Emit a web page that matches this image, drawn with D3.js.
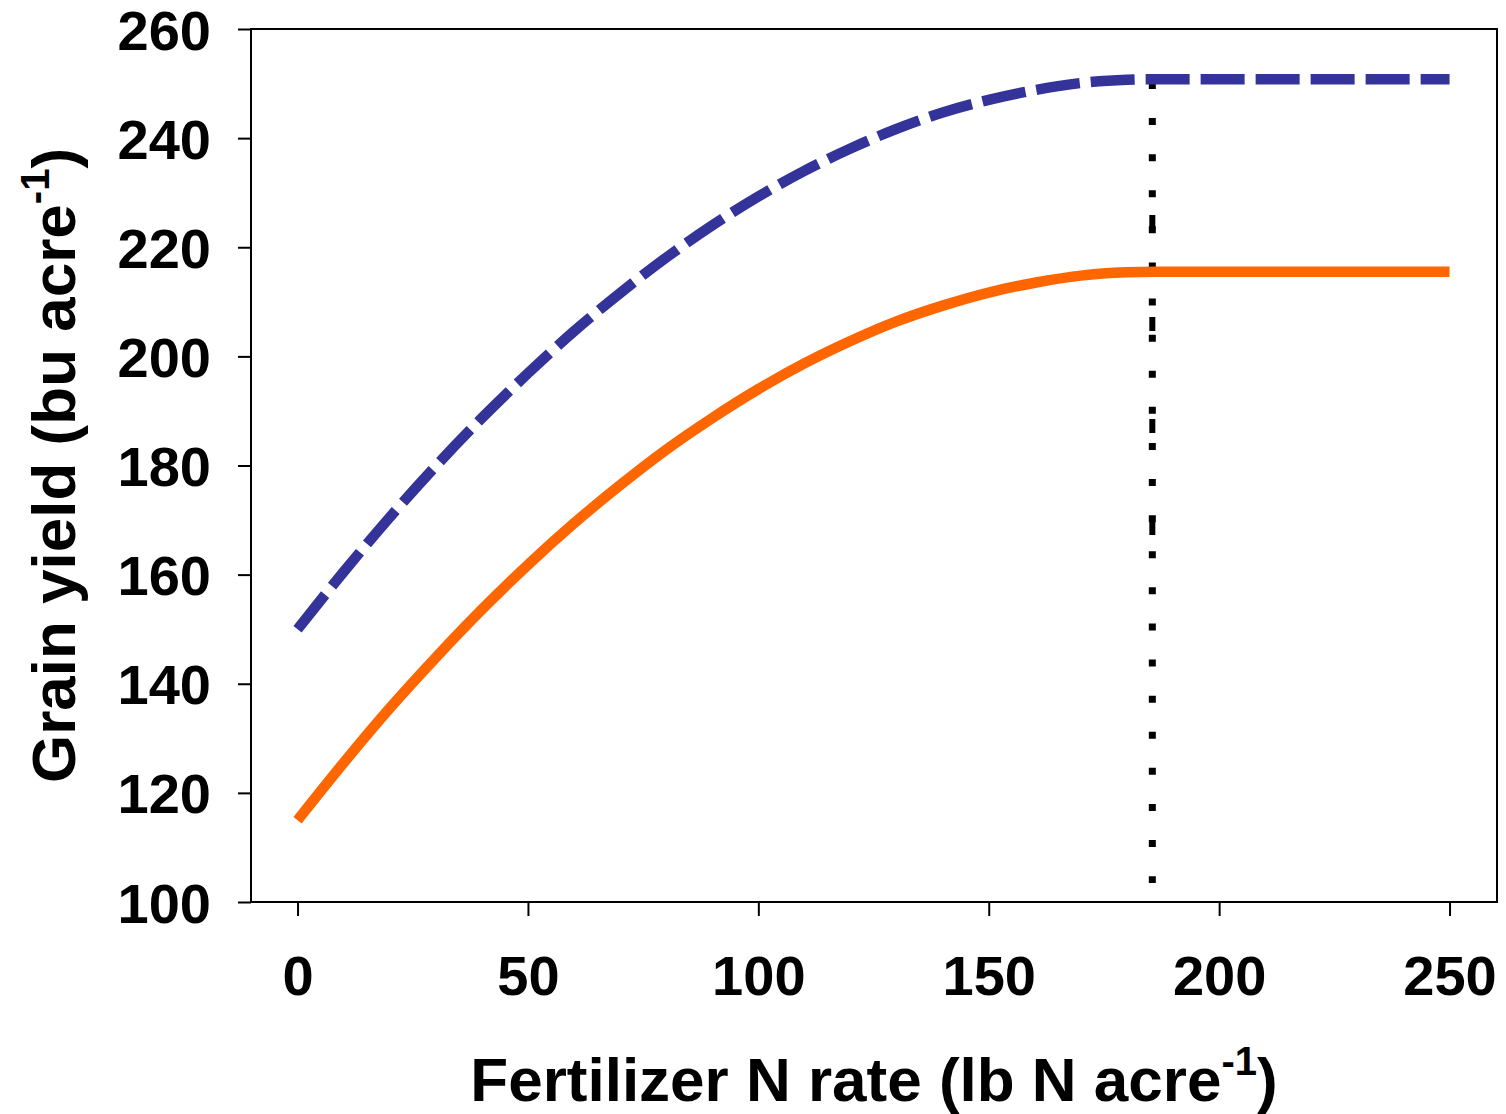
<!DOCTYPE html>
<html>
<head>
<meta charset="utf-8">
<script src="https://cdn.jsdelivr.net/npm/d3@7"></script>
<style>
  body { margin: 0; background: #fff; }
  text { font-family: "Liberation Sans", Arial, sans-serif; font-weight: bold; fill: #000; }
</style>
</head>
<body>
<div id="vis"></div>
<script>
const margin = { top: 29, right: 9, bottom: 212, left: 251 };
const width = 1506;
const height = 1114;

// N rate (lb N acre-1) at which values were read
const nRate = [0, 10, 20, 30, 40, 50, 60, 70, 80, 90, 100, 110, 120, 130, 140, 150, 160, 170, 180, 186, 250];
// upper (blue dashed) curve, bu acre-1
const yieldHigh = [150.0, 160.5, 170.5, 179.9, 188.7, 196.9, 204.6, 211.6, 218.1, 224.0, 229.3, 234.0, 238.1, 241.7, 244.7, 247.0, 248.8, 250.1, 250.7, 250.8, 250.8];
// lower (orange solid) curve, bu acre-1
const yieldLow = [115.0, 125.5, 135.5, 144.8, 153.6, 161.8, 169.4, 176.4, 182.9, 188.7, 194.0, 198.7, 202.8, 206.4, 209.3, 211.7, 213.5, 214.8, 215.4, 215.5, 215.5];

// economic optimum marker (dotted vertical)
const optimumRate = 185.5;
const optimumSpan = [103.5, 250.3];
const optimumSpan2 = [165.4, 225.9];

const xTicks = [0, 50, 100, 150, 200, 250];
const yTicks = [100, 120, 140, 160, 180, 200, 220, 240, 260];

const svg = d3.select("#vis").append("svg")
    .attr("width", width)
    .attr("height", height);

const xScale = d3.scaleLinear()
    .domain([-10.1, 260.3])
    .range([margin.left, width - margin.right]);

const yScale = d3.scaleLinear()
    .domain([100, 260])
    .range([height - margin.bottom, margin.top]);

// frame
svg.append("rect")
    .attr("x", xScale.range()[0])
    .attr("y", yScale.range()[1])
    .attr("width", xScale.range()[1] - xScale.range()[0])
    .attr("height", yScale.range()[0] - yScale.range()[1])
    .attr("fill", "none")
    .attr("stroke", "#000")
    .attr("stroke-width", 2);

const xAxis = svg.append("g")
    .attr("transform", `translate(0,${height - margin.bottom})`)
    .call(d3.axisBottom(xScale).tickValues(xTicks).tickSize(14).tickSizeOuter(0));
xAxis.select(".domain").remove();
xAxis.selectAll("line").attr("stroke", "#000").attr("stroke-width", 2);
xAxis.selectAll("text")
    .attr("y", 93)
    .attr("dy", 0)
    .style("font-size", "56px");

const yAxis = svg.append("g")
    .attr("transform", `translate(${margin.left},0)`)
    .call(d3.axisLeft(yScale).tickValues(yTicks).tickSize(13).tickSizeOuter(0));
yAxis.select(".domain").remove();
yAxis.selectAll("line").attr("stroke", "#000").attr("stroke-width", 2);
yAxis.selectAll("text")
    .attr("x", -40)
    .attr("dy", 20)
    .style("font-size", "56px");

// dotted optimum lines
svg.append("line")
    .attr("x1", xScale(optimumRate))
    .attr("x2", xScale(optimumRate))
    .attr("y1", yScale(optimumSpan[1]))
    .attr("y2", yScale(optimumSpan[0]))
    .attr("stroke", "#000")
    .attr("stroke-width", 7)
    .attr("stroke-dasharray", "7,29.1");

svg.append("line")
    .attr("x1", xScale(optimumRate))
    .attr("x2", xScale(optimumRate))
    .attr("y1", yScale(optimumSpan2[1]))
    .attr("y2", yScale(optimumSpan2[0]))
    .attr("stroke", "#000")
    .attr("stroke-width", 6)
    .attr("stroke-dasharray", "14,88");

const line = d3.line()
    .x((d, i) => xScale(nRate[i]))
    .y(d => yScale(d))
    .curve(d3.curveMonotoneX);

svg.append("path")
    .datum(yieldLow)
    .attr("d", line)
    .attr("fill", "none")
    .attr("stroke", "#FF6600")
    .attr("stroke-width", 10.5);

svg.append("path")
    .datum(yieldHigh)
    .attr("d", line)
    .attr("fill", "none")
    .attr("stroke", "#333399")
    .attr("stroke-width", 10.5)
    .attr("stroke-dasharray", "44,11");

// axis titles
const xTitle = svg.append("text")
    .attr("x", (xScale.range()[0] + xScale.range()[1]) / 2)
    .attr("y", 1101)
    .attr("text-anchor", "middle")
    .style("font-size", "62px");
xTitle.append("tspan").text("Fertilizer N rate (lb N acre");
xTitle.append("tspan").attr("dy", -26).style("font-size", "40px").text("-1");
xTitle.append("tspan").attr("dy", 26).text(")");

const yTitle = svg.append("text")
    .attr("transform", `translate(75,${(yScale.range()[0] + yScale.range()[1]) / 2}) rotate(-90)`)
    .attr("text-anchor", "middle")
    .style("font-size", "62px");
yTitle.append("tspan").text("Grain yield (bu acre");
yTitle.append("tspan").attr("dy", -26).style("font-size", "40px").text("-1");
yTitle.append("tspan").attr("dy", 26).text(")");
</script>
</body>
</html>
